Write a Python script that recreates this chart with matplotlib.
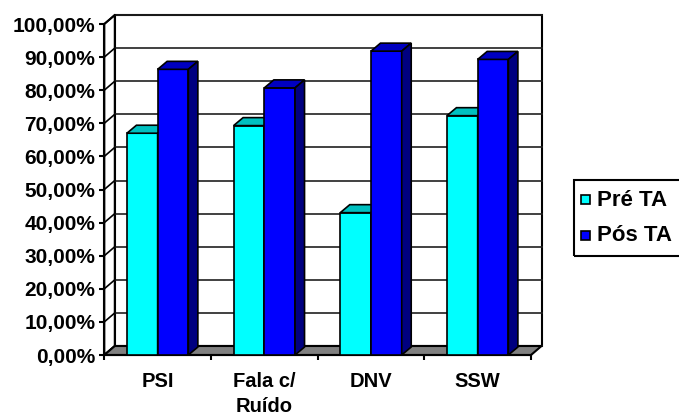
import numpy as np
import matplotlib
matplotlib.use('Agg')
import matplotlib.pyplot as plt
from matplotlib.patches import Polygon, Rectangle

categorias = ['PSI', 'Fala c/\nRuído', 'DNV', 'SSW']
series = ['Pré TA', 'Pós TA']
pre_ta = [67.0, 69.3, 43.0, 72.3]
pos_ta = [86.3, 80.7, 91.8, 89.3]
yticks = np.arange(0, 101, 10)

plt.rcParams['font.family'] = ['Liberation Sans', 'DejaVu Sans']
plt.rcParams['font.weight'] = 'bold'

W, H = 679, 419
fig = plt.figure(figsize=(W / 100, H / 100), dpi=100)
ax = fig.add_axes([104.3 / W, 1 - 355 / H, (531 - 104.3) / W, (355 - 24) / H])
ax.set_xlim(-0.5, 3.5)
ax.set_ylim(0, 100)

# pixels -> data units, for the fake 3D depth
sx = 4 / (531 - 104.3)
sy = 100 / (355 - 24)
ddx, ddy = 10.5 * sx, 9 * sy   # walls
bdx, bdy = 9.5 * sx, 8 * sy    # bars
bw = 0.288

# back wall, side wall, floor
ax.add_patch(Rectangle((-0.5 + ddx, ddy), 4, 100, facecolor='white', edgecolor='black',
                       lw=1.5, zorder=1, clip_on=False))
ax.add_patch(Polygon([(-0.5, 0), (-0.5 + ddx, ddy), (-0.5 + ddx, 100 + ddy), (-0.5, 100)],
                     facecolor='white', edgecolor='black', lw=1.5, zorder=1, clip_on=False))
for t in yticks:
    ax.plot([-0.5 + ddx, 3.5 + ddx], [t + ddy, t + ddy], color='#202020', lw=1.2, zorder=1.5, clip_on=False)
    ax.plot([-0.5, -0.5 + ddx], [t, t + ddy], color='black', lw=1.2, zorder=1.5, clip_on=False)
ax.add_patch(Polygon([(-0.5, 0), (3.5, 0), (3.5 + ddx, ddy), (-0.5 + ddx, ddy)],
                     facecolor='#808080', edgecolor='black', lw=1.5, zorder=2, clip_on=False))

x = np.arange(len(categorias))
cores = [('#00FFFF', '#00C0C0', '#008080'), ('#0000FF', '#0000C0', '#000080')]
for k, vals in enumerate([pre_ta, pos_ta]):
    front, top, side = cores[k]
    bars = ax.bar(x - bw + k * bw, vals, width=bw, align='edge', color=front,
                  edgecolor='black', lw=1.2, zorder=3 + k, clip_on=False, label=series[k])
    for b in bars:
        x0, v = b.get_x(), b.get_height()
        ax.add_patch(Polygon([(x0, v), (x0 + bw, v), (x0 + bw + bdx, v + bdy), (x0 + bdx, v + bdy)],
                             facecolor=top, edgecolor='black', lw=1.2, zorder=3 + k, clip_on=False))
        ax.add_patch(Polygon([(x0 + bw, 0), (x0 + bw + bdx, bdy), (x0 + bw + bdx, v + bdy), (x0 + bw, v)],
                             facecolor=side, edgecolor='black', lw=1.2, zorder=3 + k, clip_on=False))

for s in ['top', 'right']:
    ax.spines[s].set_visible(False)
for s in ['left', 'bottom']:
    ax.spines[s].set_linewidth(1.5)
    ax.spines[s].set_zorder(2.5)

ax.set_yticks(yticks, [f'{t:.2f}'.replace('.', ',') + '%' for t in yticks])
ax.tick_params(axis='y', direction='out', length=3.6, width=1.5, pad=3, labelsize=15)
ax.set_xticks(np.arange(-0.5, 4, 1), [])
ax.set_xticks(x, categorias, minor=True)
ax.tick_params(axis='x', which='major', direction='out', length=3.6, width=1.5)
ax.tick_params(axis='x', which='minor', length=0, pad=12, labelsize=14.5)
for lbl in ax.get_xticklabels(minor=True):
    lbl.set_linespacing(1.45)
    lbl.set_verticalalignment('top')

# legend box, drawn by hand (it runs off the right edge)
fig.add_artist(Rectangle((574 / W, 1 - 256 / H), 200 / W, 76 / H, transform=fig.transFigure,
                         fill=False, edgecolor='black', lw=1.5))
for k, ypix in enumerate([200, 235]):
    fig.add_artist(Rectangle((581 / W, 1 - (ypix + 4.5) / H), 9 / W, 9 / H, transform=fig.transFigure,
                             facecolor=cores[k][0], edgecolor='black', lw=1.2))
    fig.text(597 / W, 1 - ypix / H, series[k], fontsize=16, va='center', ha='left')

fig.savefig('out.png', dpi=100)
